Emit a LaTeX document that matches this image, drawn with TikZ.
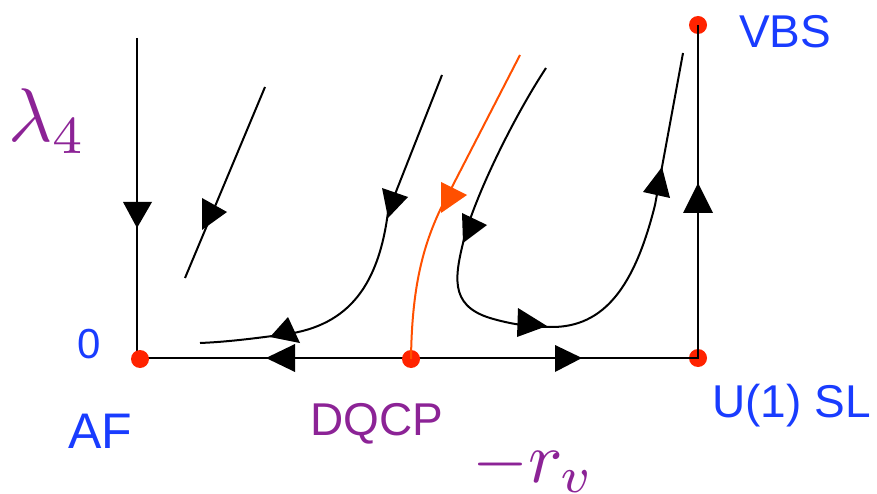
\documentclass[tikz,border=0pt]{standalone}
\usepackage{fontspec}
\setmainfont{Liberation Sans}
\definecolor{labelblue}{RGB}{25,60,255}
\definecolor{labelpurple}{RGB}{140,35,150}
\definecolor{critorange}{RGB}{255,80,0}
\definecolor{dotred}{RGB}{255,35,0}
\tikzset{
  fixpt/.style={circle,fill=dotred,inner sep=0pt,minimum size=18pt},
  flow/.style={line width=2pt},
  head/.style={fill=black},
  lbl/.style={inner sep=0pt,anchor=base west,font=\fontsize{46}{50}\selectfont},
  mathlbl/.style={inner sep=0pt,anchor=base west,font=\normalsize}
}
\begin{document}
\begin{tikzpicture}[x=1pt,y=-1pt]
\useasboundingbox (0,0) rectangle (877,494);
% axes
\coordinate (top) at (137,38);
\coordinate (corner) at (137,358);
\node[fixpt] (usl) at (698,358) {};
\node[fixpt] (vbs) at (698,25) {};
\draw[line width=2.5pt] (top) -- (corner) -- (usl.center) -- (vbs.center);
\node[fixpt] (af) at (140,359) {};
\fill[head] (123,202) -- (152,202) -- (137,228) -- cycle;
\fill[head] (266,358) -- (295,344) -- (295,372) -- cycle;
\fill[head] (582,358) -- (555,345) -- (555,372) -- cycle;
\fill[head] (698,183) -- (683,213) -- (713,213) -- cycle;
% flow lines
\draw[flow] (265,87) -- (185,278);
\fill[head] (202,198) -- (227,212) -- (202,230) -- cycle;
\draw[flow] (442,75) -- (388,212) .. controls (378,290) and (345,328) .. (280,335) .. controls (250,339) and (225,342) .. (200,343);
\fill[head] (382,188) -- (408,197) -- (388,218) -- cycle;
\fill[head] (288,317) -- (300,343) -- (270,337) -- cycle;
\draw[flow] (546,68) .. controls (515,115) and (478,190) .. (465,235) .. controls (455,275) and (448,305) .. (490,318) .. controls (510,324) and (530,327) .. (550,327) .. controls (605,328) and (635,285) .. (655,205) -- (683,53);
\fill[head] (462,213) -- (487,225) -- (463,243) -- cycle;
\fill[head] (518,308) -- (547,326) -- (517,337) -- cycle;
\fill[head] (662,167) -- (670,198) -- (643,192) -- cycle;
% critical line into DQCP
\node[fixpt] (dqcp) at (411,359) {};
\draw[flow,critorange] (520,55) -- (452,187) .. controls (425,235) and (412,280) .. (dqcp.center);
\fill[critorange] (441,182) -- (467,195) -- (441,213) -- cycle;
% labels
\node[mathlbl,labelpurple] (lam) at (8,142) {\scalebox{7.6}{$\lambda_4$}};
\node[lbl,labelblue,font=\fontsize{42}{46}\selectfont] (zero) at (77,358) {0};
\node[lbl,labelblue,font=\fontsize{50}{54}\selectfont] (aflbl) at (68,448) {AF};
\node[lbl,labelpurple] (dqcplbl) at (310,435) {DQCP};
\node[lbl,labelblue] (usllbl) at (712,417) {U(1) SL};
\node[lbl,labelblue] (vbslbl) at (739,48) {VBS};
\node[mathlbl,labelpurple] (rv) at (472,482) {\scalebox{7.2}{$-r_v$}};
\end{tikzpicture}
\end{document}
